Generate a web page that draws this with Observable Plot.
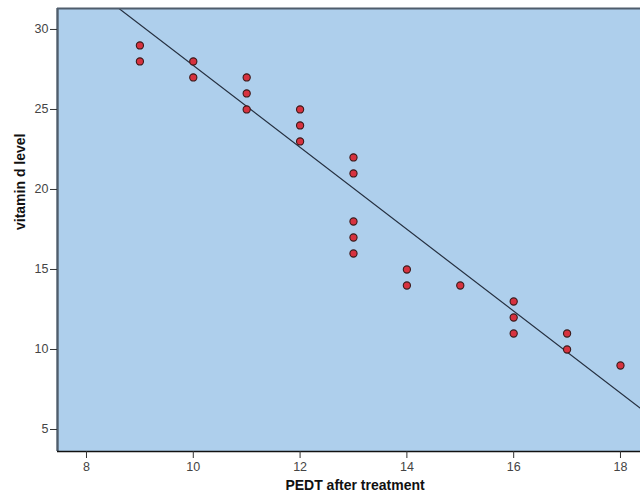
<!DOCTYPE html>
<html>
<head>
<meta charset="utf-8">
<script src="https://cdn.jsdelivr.net/npm/d3@7"></script>
<script src="https://cdn.jsdelivr.net/npm/@observablehq/plot@0.6"></script>
<style>
  html, body { margin: 0; padding: 0; background: #fff; }
  #chart svg { display: block; }
</style>
</head>
<body>
<div id="chart"></div>
<script>
// Data
const pedt = [9, 9, 10, 10, 11, 11, 11, 12, 12, 12, 13, 13, 13, 13, 13, 14, 14, 15, 16, 16, 16, 17, 17, 18];
const vitD = [29, 28, 28, 27, 27, 26, 25, 25, 24, 23, 22, 21, 18, 17, 16, 15, 14, 14, 13, 12, 11, 11, 10, 9];
// Fit line, two ends
const fitX = [7.4, 18.5];
const fitY = [34.4, 6.0];
const xTicks = [8, 10, 12, 14, 16, 18];
const yTicks = [5, 10, 15, 20, 25, 30];
const xLabel = "PEDT after treatment";
const yLabel = "vitamin d level";

const points = pedt.map((x, i) => ({x, y: vitD[i]}));
const fit = fitX.map((x, i) => ({x, y: fitY[i]}));

const chart = Plot.plot({
  width: 640,
  height: 499,
  marginLeft: 57,
  marginTop: 8,
  marginBottom: 48,
  marginRight: 0,
  style: {fontFamily: "Liberation Sans, Arial, sans-serif", background: "#fff"},
  x: {domain: [7.457, 18.375]},
  y: {domain: [3.625, 31.31]},
  marks: [
    Plot.frame({fill: "#aecfec", stroke: null}),
    Plot.line(fit, {x: "x", y: "y", stroke: "#263040", strokeWidth: 1.2, clip: true}),
    Plot.dot(points, {x: "x", y: "y", r: 3.6, fill: "#d7323f", stroke: "#3a1a1a", strokeWidth: 1.1}),
    Plot.ruleY([31.31], {stroke: "#4f5d6c", strokeWidth: 2}),
    Plot.ruleX([7.457], {stroke: "#4f5d6c", strokeWidth: 2.4}),
    Plot.ruleY([3.625], {stroke: "#111", strokeWidth: 1.5}),
    Plot.axisX(xTicks, {tickSize: 7, tickPadding: 4, fontSize: 12.5, color: "#444", stroke: "#333", label: null}),
    Plot.axisY(yTicks, {tickSize: 7, tickPadding: 2, fontSize: 12.5, color: "#444", stroke: "#333", label: null}),
    Plot.text([xLabel], {frameAnchor: "bottom", dy: 38, dx: 6, fontSize: 14, fontWeight: "bold", fill: "#111"}),
    Plot.text([yLabel], {frameAnchor: "left", dx: -37, rotate: -90, fontSize: 14, fontWeight: "bold", fill: "#111"})
  ]
});
document.getElementById("chart").appendChild(chart);
</script>
</body>
</html>
